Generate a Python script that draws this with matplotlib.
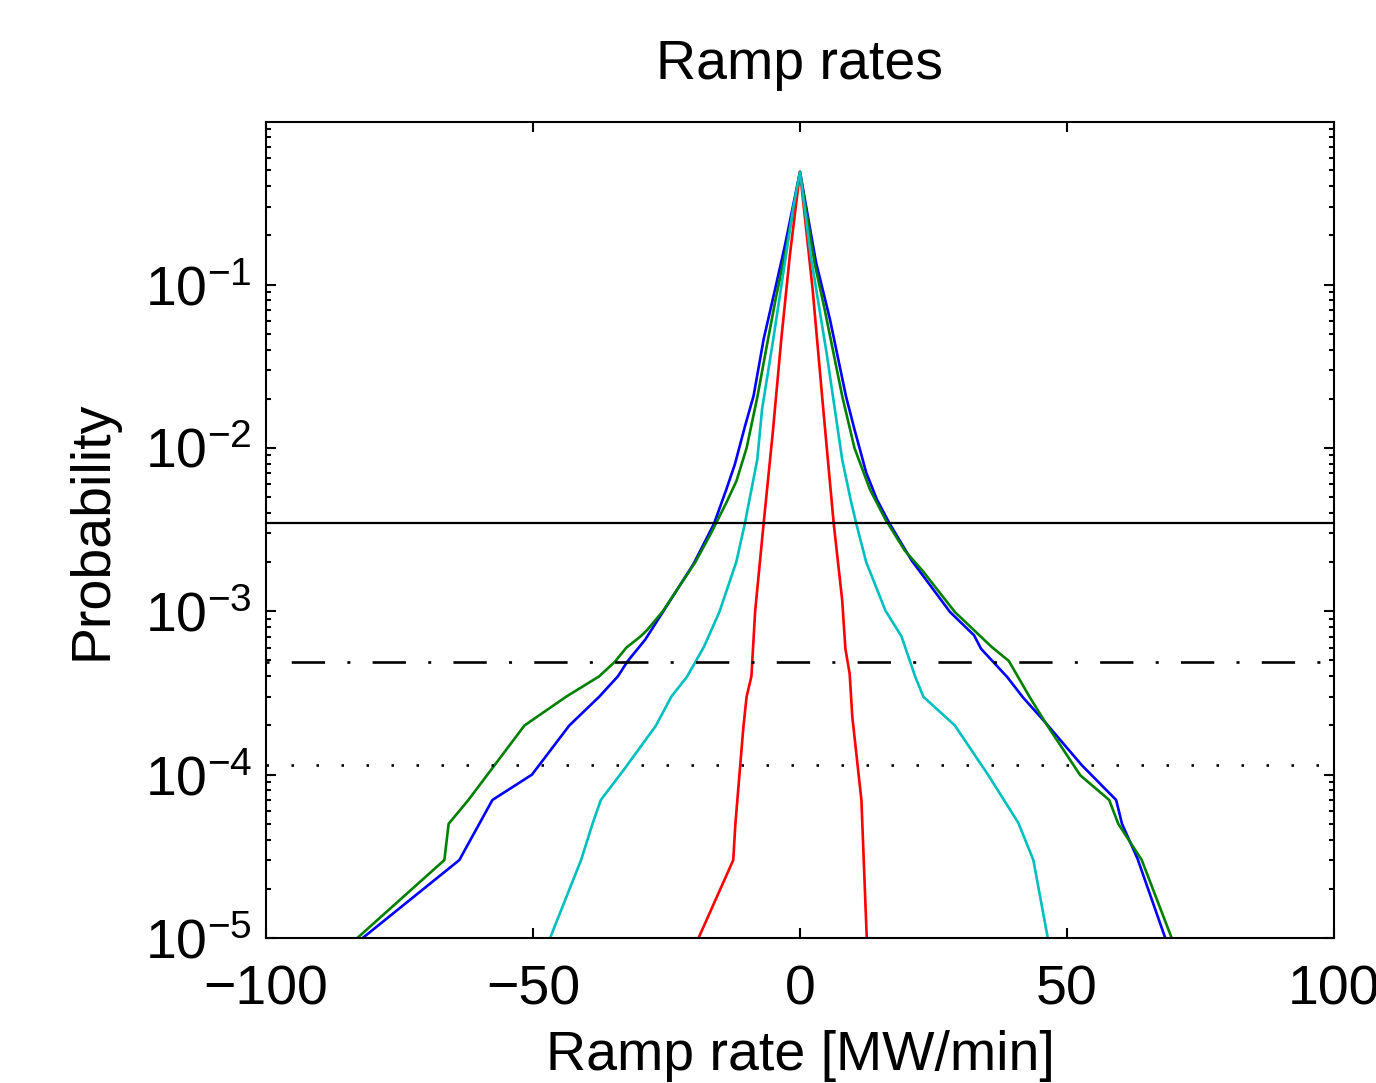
import numpy as np
import matplotlib
matplotlib.use("Agg")
import matplotlib.pyplot as plt
from matplotlib.ticker import LogLocator, NullLocator, FixedLocator

plt.rcParams['font.family'] = ['Liberation Sans', 'DejaVu Sans']
plt.rcParams['mathtext.fontset'] = 'custom'
plt.rcParams['mathtext.rm'] = 'Liberation Sans'
plt.rcParams['mathtext.it'] = 'Liberation Sans:italic'
plt.rcParams['mathtext.bf'] = 'Liberation Sans:bold'
plt.rcParams['lines.scale_dashes'] = False

# ramp rate [MW/min] and probability
blue_x = [-81.9, -63.8, -57.6, -50.2, -43.2, -37.6, -34.1, -32.3, -29.0, -25.1,
          -19.9, -16.1, -13.8, -12.2, -10.3, -8.7, -6.8, -4.8, -2.9, 0.0,
          3.0, 5.6, 8.6, 10.2, 12.4, 14.4, 16.7, 20.9, 28.1, 32.6, 33.9,
          38.8, 41.8, 45.6, 52.8, 59.2, 60.3, 63.2, 68.4]
blue_p = [1e-5, 3e-5, 7e-5, 1e-4, 2e-4, 3e-4, 4e-4, 4.94e-4, 6.7e-4, 1.06e-3,
          1.96e-3, 3.44e-3, 5.57e-3, 7.94e-3, 1.36e-2, 2.08e-2, 4.65e-2, 8.97e-2, 0.169, 0.49,
          0.137, 0.0615, 0.0208, 0.0130, 7.06e-3, 4.84e-3, 3.48e-3, 2.05e-3, 9.9e-4, 7.13e-4, 5.9e-4,
          3.96e-4, 2.96e-4, 2.15e-4, 1.14e-4, 7e-5, 5e-5, 3.06e-5, 1e-5]

green_x = [-82.9, -66.6, -65.8, -62.1, -51.6, -43.8, -37.6, -34.7, -32.5, -29.9,
           -28.6, -25.7, -19.6, -16.7, -13.8, -11.9, -10.0, -8.0, -6.1, -4.5, -2.6, 0.0,
           2.7, 4.6, 7.9, 10.2, 13.1, 16.0, 19.6, 22.9, 29.0, 35.9, 39.1,
           43.0, 46.3, 52.5, 57.9, 59.6, 64.0, 69.6]
green_p = [1e-5, 3e-5, 5e-5, 7e-5, 2e-4, 3e-4, 4e-4, 4.9e-4, 6e-4, 7e-4,
           7.7e-4, 1.0e-3, 2.0e-3, 2.99e-3, 4.62e-3, 6.28e-3, 1.0e-2, 2.04e-2, 4.43e-2, 8.36e-2, 0.166, 0.49,
           0.137, 0.071, 0.0208, 0.01, 5.57e-3, 3.65e-3, 2.36e-3, 1.78e-3, 9.9e-4, 6.05e-4, 4.97e-4,
           2.99e-4, 2.0e-4, 9.9e-5, 7e-5, 5e-5, 3e-5, 1e-5]

red_x = [-19.0, -12.5, -12.1, -10.6, -10.0, -9.1, -8.4, -6.8, -5.1, -3.5, -1.9, 0.0,
         2.36, 4.3, 6.3, 7.9, 8.5, 9.3, 9.8, 11.5, 12.5]
red_p = [1e-5, 3e-5, 5e-5, 1.96e-4, 3e-4, 4e-4, 1e-3, 3.48e-3, 1.24e-2, 4.65e-2, 0.151, 0.49,
         0.094, 0.0181, 3.48e-3, 1.17e-3, 5.9e-4, 4.15e-4, 2.25e-4, 7e-5, 1e-5]

cyan_x = [-46.8, -41.0, -38.8, -37.3, -33.1, -27.0, -24.1, -21.2, -18.0, -15.1,
          -11.9, -10.3, -9.7, -8.0, -7.1, -5.1, -3.2, -1.3, 0.0,
          2.0, 4.96, 7.9, 9.5, 10.5, 12.4, 16.0, 19.0, 21.6, 23.1,
          29.0, 35.2, 40.9, 43.7, 46.4]
cyan_p = [1e-5, 3e-5, 5.06e-5, 7e-5, 1.06e-4, 1.99e-4, 3e-4, 3.96e-4, 6.05e-4, 9.9e-4,
          2.02e-3, 3.48e-3, 4.4e-3, 8.5e-3, 1.73e-2, 4.43e-2, 0.1135, 0.291, 0.49,
          0.151, 0.0385, 8.5e-3, 4.79e-3, 3.48e-3, 2.0e-3, 1.01e-3, 7.03e-4, 3.96e-4, 3e-4,
          2e-4, 1e-4, 5.06e-5, 3e-5, 1e-5]

# reference levels
level_solid = 3.47e-3
level_dashdot = 4.92e-4
level_dotted = 1.15e-4

fig = plt.figure(figsize=(13.76, 10.83), dpi=100)
ax = fig.add_axes([266/1376, 1 - 938/1083, (1334 - 266)/1376, (938 - 122)/1083])

lw = 1.9
ax.semilogy(blue_x, blue_p, color=(0, 0, 1), lw=lw)
ax.semilogy(green_x, green_p, color=(0, 0.5, 0), lw=lw)
ax.semilogy(red_x, red_p, color=(1, 0, 0), lw=lw)
ax.semilogy(cyan_x, cyan_p, color=(0, 0.75, 0.75), lw=lw)

ax.axhline(level_solid, color='k', lw=1.6)
ax.axhline(level_dashdot, color='k', lw=1.9, linestyle=(40, (24, 16, 2.2, 16)))
ax.axhline(level_dotted, color='k', lw=1.9, linestyle=(0, (1.8, 16.2)))

ax.set_xlim(-100, 100)
ax.set_ylim(1e-5, 0.99)
ax.xaxis.set_major_locator(FixedLocator([-100, -50, 0, 50, 100]))
ax.xaxis.set_minor_locator(NullLocator())
ax.yaxis.set_major_locator(LogLocator(base=10, numticks=10))
ax.yaxis.set_minor_locator(LogLocator(base=10, subs=np.arange(2, 10), numticks=10))

for s in ax.spines.values():
    s.set_linewidth(1.5)
ax.tick_params(which='both', direction='in', top=True, right=True, width=1.5, labelsize=40)
ax.tick_params(which='major', length=7)
ax.tick_params(which='minor', length=3.6)
ax.tick_params(axis='x', pad=19)
ax.tick_params(axis='y', pad=10)

ax.set_title('Ramp rates', fontsize=40, pad=31)
ax.set_xlabel('Ramp rate [MW/min]', fontsize=40, labelpad=10)
ax.set_ylabel('Probability', fontsize=40, labelpad=19)

fig.savefig('out.png', dpi=100)
